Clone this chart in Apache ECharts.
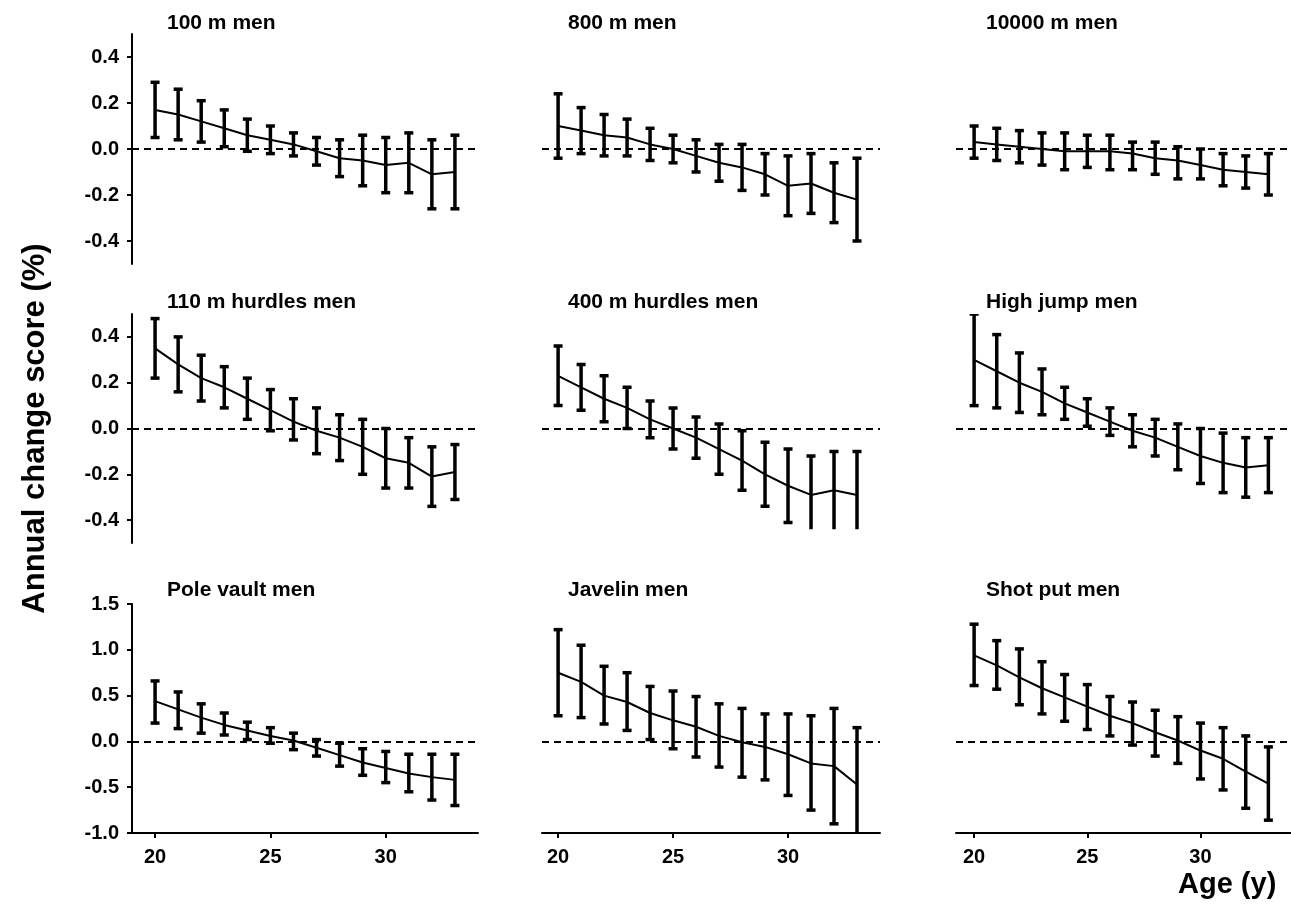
<!DOCTYPE html>
<html>
<head>
<meta charset="utf-8">
<title>Annual change score by age</title>
<script src="https://cdn.jsdelivr.net/npm/echarts@6/dist/echarts.min.js"></script>
<style>
  html, body { margin: 0; padding: 0; background: #fff; }
  #chart { width: 1291px; height: 915px; }
</style>
</head>
<body>
<div id="chart"></div>
<script>
// x axis: age (y)
const ages = [20, 21, 22, 23, 24, 25, 26, 27, 28, 29, 30, 31, 32, 33]
const xTicks = [20, 25, 30]
const smallTicks = [-0.4, -0.2, 0, 0.2, 0.4]
const bigTicks = [-1, -0.5, 0, 0.5, 1, 1.5]

// 100 m men
const mean100 = [0.17, 0.15, 0.12, 0.09, 0.06, 0.04, 0.02, -0.01, -0.04, -0.05, -0.07, -0.06, -0.11, -0.10]
const up100 = [0.29, 0.26, 0.21, 0.17, 0.13, 0.10, 0.07, 0.05, 0.04, 0.06, 0.05, 0.07, 0.04, 0.06]
const low100 = [0.05, 0.04, 0.03, 0.01, -0.01, -0.02, -0.03, -0.07, -0.12, -0.16, -0.19, -0.19, -0.26, -0.26]

// 800 m men
const mean800 = [0.10, 0.08, 0.06, 0.05, 0.02, 0.00, -0.03, -0.06, -0.08, -0.11, -0.16, -0.15, -0.19, -0.22]
const up800 = [0.24, 0.18, 0.15, 0.13, 0.09, 0.06, 0.04, 0.02, 0.02, -0.02, -0.03, -0.02, -0.06, -0.04]
const low800 = [-0.04, -0.02, -0.03, -0.03, -0.05, -0.06, -0.10, -0.14, -0.18, -0.20, -0.29, -0.28, -0.32, -0.40]

// 10000 m men
const mean10k = [0.03, 0.02, 0.01, 0.00, -0.01, -0.01, -0.01, -0.02, -0.04, -0.05, -0.07, -0.09, -0.10, -0.11]
const up10k = [0.10, 0.09, 0.08, 0.07, 0.07, 0.06, 0.06, 0.03, 0.03, 0.01, 0.00, -0.02, -0.03, -0.02]
const low10k = [-0.04, -0.05, -0.06, -0.07, -0.09, -0.08, -0.09, -0.09, -0.11, -0.13, -0.13, -0.16, -0.17, -0.20]

// 110 m hurdles men
const mean110h = [0.35, 0.28, 0.22, 0.18, 0.13, 0.08, 0.03, -0.01, -0.04, -0.08, -0.13, -0.15, -0.21, -0.19]
const up110h = [0.48, 0.40, 0.32, 0.27, 0.22, 0.17, 0.13, 0.09, 0.06, 0.04, 0.00, -0.04, -0.08, -0.07]
const low110h = [0.22, 0.16, 0.12, 0.09, 0.04, -0.01, -0.05, -0.11, -0.14, -0.20, -0.26, -0.26, -0.34, -0.31]

// 400 m hurdles men (last three bars run past the bottom of the panel)
const mean400h = [0.23, 0.18, 0.13, 0.09, 0.04, 0.00, -0.04, -0.09, -0.14, -0.20, -0.25, -0.29, -0.27, -0.29]
const up400h = [0.36, 0.28, 0.23, 0.18, 0.12, 0.09, 0.05, 0.02, -0.01, -0.06, -0.09, -0.12, -0.10, -0.10]
const low400h = [0.10, 0.08, 0.03, 0.00, -0.04, -0.09, -0.13, -0.20, -0.27, -0.34, -0.41, -0.50, -0.50, -0.50]

// High jump men
const meanHj = [0.30, 0.25, 0.20, 0.16, 0.11, 0.07, 0.03, -0.01, -0.04, -0.08, -0.12, -0.15, -0.17, -0.16]
const upHj = [0.50, 0.41, 0.33, 0.26, 0.18, 0.13, 0.09, 0.06, 0.04, 0.02, 0.00, -0.02, -0.04, -0.04]
const lowHj = [0.10, 0.09, 0.07, 0.06, 0.04, 0.01, -0.03, -0.08, -0.12, -0.18, -0.24, -0.28, -0.30, -0.28]

// Pole vault men
const meanPv = [0.44, 0.35, 0.26, 0.18, 0.12, 0.06, 0.01, -0.07, -0.15, -0.23, -0.29, -0.35, -0.39, -0.42]
const upPv = [0.66, 0.54, 0.41, 0.31, 0.21, 0.15, 0.09, 0.02, -0.02, -0.08, -0.11, -0.14, -0.14, -0.14]
const lowPv = [0.20, 0.14, 0.09, 0.07, 0.02, -0.02, -0.09, -0.16, -0.27, -0.37, -0.45, -0.55, -0.64, -0.70]

// Javelin men
const meanJav = [0.75, 0.65, 0.50, 0.43, 0.31, 0.23, 0.16, 0.06, -0.01, -0.06, -0.14, -0.24, -0.27, -0.47]
const upJav = [1.22, 1.05, 0.82, 0.75, 0.60, 0.55, 0.49, 0.41, 0.36, 0.30, 0.30, 0.28, 0.36, 0.15]
const lowJav = [0.28, 0.26, 0.19, 0.12, 0.02, -0.08, -0.17, -0.28, -0.39, -0.42, -0.59, -0.75, -0.90, -1.10]

// Shot put men
const meanSp = [0.94, 0.83, 0.70, 0.58, 0.48, 0.38, 0.28, 0.20, 0.10, 0.01, -0.10, -0.19, -0.33, -0.46]
const upSp = [1.28, 1.10, 1.01, 0.87, 0.73, 0.62, 0.49, 0.43, 0.34, 0.27, 0.20, 0.15, 0.06, -0.06]
const lowSp = [0.61, 0.57, 0.40, 0.30, 0.22, 0.13, 0.06, -0.04, -0.16, -0.24, -0.41, -0.53, -0.73, -0.86]

const panels = [
    { title: '100 m men', mean: mean100, up: up100, low: low100, row: 0, col: 0 },
    { title: '800 m men', mean: mean800, up: up800, low: low800, row: 0, col: 1 },
    { title: '10000 m men', mean: mean10k, up: up10k, low: low10k, row: 0, col: 2 },
    { title: '110 m hurdles men', mean: mean110h, up: up110h, low: low110h, row: 1, col: 0 },
    { title: '400 m hurdles men', mean: mean400h, up: up400h, low: low400h, row: 1, col: 1, yMin: -0.44 },
    { title: 'High jump men', mean: meanHj, up: upHj, low: lowHj, row: 1, col: 2 },
    { title: 'Pole vault men', mean: meanPv, up: upPv, low: lowPv, row: 2, col: 0 },
    { title: 'Javelin men', mean: meanJav, up: upJav, low: lowJav, row: 2, col: 1 },
    { title: 'Shot put men', mean: meanSp, up: upSp, low: lowSp, row: 2, col: 2 }
]

// layout
const font = 'Liberation Sans'
const rowTop = [34, 314, 604]
const rowH = [230, 229, 229]
const rowRange = [[-0.5, 0.5], [-0.5, 0.5], [-1, 1.5]]
const colLeft = [132, 542, 956]
const colW = [346, 338, 340]
const colXMin = [19, 19.3, 19.2]
const titleLeft = [167, 568, 986]
const titleTop = [13, 292, 580]

const labelStyle = { color: '#000', fontFamily: font, fontWeight: 'bold', fontSize: 20 }

const errorBars = (params, api) => {
    const x = api.value(0)
    const lo = api.coord([x, api.value(1)])
    const hi = api.coord([x, api.value(2)])
    const cap = 4.5
    const style = { stroke: '#000', lineWidth: 3.5 }
    return {
        type: 'group',
        children: [
            { type: 'line', shape: { x1: lo[0], y1: lo[1], x2: hi[0], y2: hi[1] }, style },
            { type: 'line', shape: { x1: hi[0] - cap, y1: hi[1], x2: hi[0] + cap, y2: hi[1] }, style },
            { type: 'line', shape: { x1: lo[0] - cap, y1: lo[1], x2: lo[0] + cap, y2: lo[1] }, style }
        ]
    }
}

const grid = []
const xAxis = []
const yAxis = []
const series = []
const title = []

panels.forEach((p, i) => {
    const [rMin, rMax] = rowRange[p.row]
    const yMin = p.yMin !== undefined ? p.yMin : rMin
    grid.push({
        left: colLeft[p.col],
        top: rowTop[p.row],
        width: colW[p.col],
        height: rowH[p.row] * (rMax - yMin) / (rMax - rMin)
    })
    title.push({
        text: p.title,
        left: titleLeft[p.col],
        top: titleTop[p.row],
        padding: 0,
        textStyle: { color: '#000', fontFamily: font, fontWeight: 'bold', fontSize: 21 }
    })
    const bottomRow = p.row === 2
    xAxis.push({
        type: 'value',
        gridIndex: i,
        min: colXMin[p.col],
        max: 34,
        show: bottomRow,
        axisLine: { show: true, onZero: false, lineStyle: { color: '#000', width: 2 } },
        axisTick: { show: true, length: 5, customValues: xTicks, lineStyle: { color: '#000', width: 2 } },
        axisLabel: Object.assign({ customValues: xTicks, margin: 14 }, labelStyle),
        splitLine: { show: false }
    })
    const ticks = p.row === 2 ? bigTicks : smallTicks
    yAxis.push({
        type: 'value',
        gridIndex: i,
        min: yMin,
        max: rMax,
        show: p.col === 0,
        axisLine: { show: true, lineStyle: { color: '#000', width: 2 } },
        axisTick: { show: true, length: 5, customValues: ticks, lineStyle: { color: '#000', width: 2 } },
        axisLabel: Object.assign({ customValues: ticks, margin: 13, formatter: v => v.toFixed(1) }, labelStyle),
        splitLine: { show: false },
        name: i === 3 ? 'Annual change score (%)' : '',
        nameLocation: 'middle',
        nameRotate: 90,
        nameGap: 81,
        nameTextStyle: { color: '#000', fontFamily: font, fontWeight: 'bold', fontSize: 31 }
    })
    series.push({
        type: 'custom',
        xAxisIndex: i,
        yAxisIndex: i,
        clip: true,
        renderItem: errorBars,
        encode: { x: 0, y: [1, 2] },
        data: ages.map((a, k) => [a, p.low[k], p.up[k]])
    })
    series.push({
        type: 'line',
        xAxisIndex: i,
        yAxisIndex: i,
        symbol: 'none',
        lineStyle: { color: '#000', width: 2 },
        data: ages.map((a, k) => [a, p.mean[k]]),
        markLine: {
            silent: true,
            symbol: 'none',
            label: { show: false },
            lineStyle: { color: '#000', width: 2, type: [7, 5] },
            data: [{ yAxis: 0 }]
        }
    })
})

const myChart = echarts.init(document.getElementById('chart'))
myChart.setOption({
    animation: false,
    backgroundColor: '#fff',
    title,
    grid,
    xAxis,
    yAxis,
    series,
    graphic: [{
        type: 'text',
        left: 1178,
        top: 870,
        style: { text: 'Age (y)', fill: '#000', font: 'bold 29px "Liberation Sans"' }
    }]
})
</script>
</body>
</html>
